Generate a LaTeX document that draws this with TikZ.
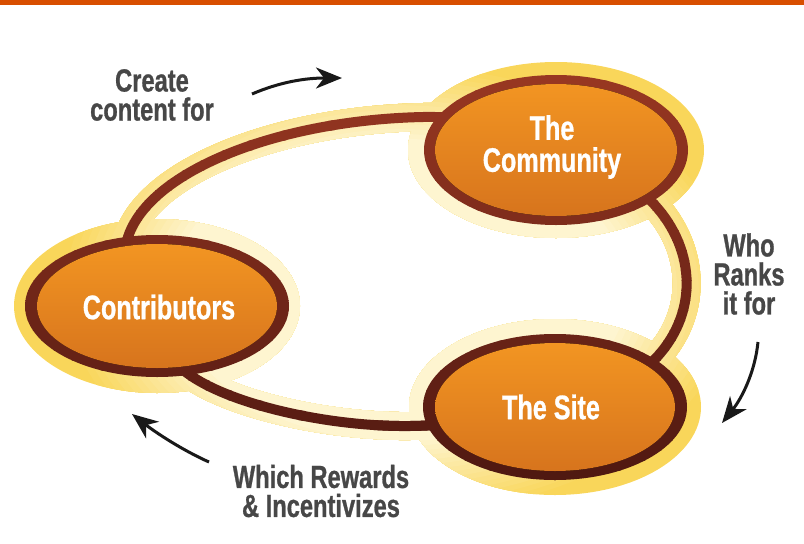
\documentclass[tikz,border=0pt]{standalone}
\usepackage{fontspec}
\newfontfamily\condsans{Liberation Sans}[FakeStretch=0.74, FakeBold=0.8]
\usetikzlibrary{arrows.meta}

\definecolor{barorange}{HTML}{D84E00}
\definecolor{halodeep}{HTML}{F9D65A}
\definecolor{halopale}{HTML}{FEF5D0}
\definecolor{browntop}{HTML}{9A3822}
\definecolor{brownbot}{HTML}{4C1710}
\definecolor{orangetop}{HTML}{F29522}
\definecolor{orangebot}{HTML}{D7741D}
\definecolor{labelgray}{HTML}{474747}

% the closed loop that links the three ovals
\def\looppath{(128,237)
  .. controls (150,170) and (280,120) .. (423,117)
  .. controls (520,115) and (610,160) .. (650,200)
  .. controls (695,245) and (700,310) .. (657,357)
  .. controls (620,397) and (500,425) .. (410,426)
  .. controls (330,427) and (230,405) .. (187,373)
  .. controls (150,345) and (117,270) .. (128,237) -- cycle}

% soft outer glow of the loop and of the ovals
\newcommand\halolayer[1]{%
  \draw[line width=28pt, #1] \looppath;
  \fill[#1] (556,150) ellipse [x radius=148, y radius=88];
  \fill[#1] (157,306) ellipse [x radius=143, y radius=87];
  \fill[#1] (555,407) ellipse [x radius=146, y radius=88];
}
% dark rim of the loop and of the ovals
\newcommand\rimlayer[1]{%
  \draw[line width=10pt, #1] \looppath;
  \fill[#1] (556,150) ellipse [x radius=132, y radius=75];
  \fill[#1] (157,306) ellipse [x radius=132, y radius=71];
  \fill[#1] (555,407) ellipse [x radius=132, y radius=73];
}

\tikzset{
  ovalfill/.style={top color=orangetop, bottom color=orangebot},
  ovaltext/.style={text=white, align=center,
    font=\condsans\bfseries\fontsize{34}{32}\selectfont},
  steplabel/.style={text=labelgray, align=center,
    font=\condsans\bfseries\fontsize{32}{29}\selectfont},
  flowarrow/.style={line width=3pt, black!90,
    -{Stealth[length=26pt, width=21pt, inset=8pt]}},
}

\begin{document}
\begin{tikzpicture}[x=1pt, y=-1pt]
\useasboundingbox (0,0) rectangle (804,544);

% header bar
\fill[barorange] (0,0) rectangle (804,5);

% glow: deep yellow outside, fading to pale towards the middle
\halolayer{halodeep}
\foreach \k in {1,...,16}{
  \pgfmathsetmacro\rx{300*(1.14-0.024*\k)}
  \pgfmathsetmacro\ry{200*(1.14-0.024*\k)}
  \pgfmathtruncatemacro\p{100*\k/16}
  \begin{scope}
    \clip (400,290) ellipse [x radius=\rx, y radius=\ry];
    \halolayer{halopale!\p!halodeep}
  \end{scope}
}

% rims: reddish brown at the top, darker towards the bottom
\foreach \yy in {60,70,...,490}{
  \pgfmathtruncatemacro\p{(\yy-60)/4.3}
  \begin{scope}
    \clip (0,\yy) rectangle (804,\yy+10.5);
    \rimlayer{brownbot!\p!browntop}
  \end{scope}
}

% orange faces of the ovals
\fill[ovalfill] (556,150) ellipse [x radius=121, y radius=66];
\fill[ovalfill] (157,306) ellipse [x radius=120, y radius=62];
\fill[ovalfill] (555,407) ellipse [x radius=120, y radius=64];

\node[ovaltext] (community) at (552,147) {The\\Community};
\node[ovaltext] (contributors) at (159,307) {Contributors};
\node[ovaltext] (site) at (551,407) {The Site};

% step labels
\node[steplabel] (create) at (152,95) {Create\\content for};
\node[steplabel] (ranks) at (749,274) {Who\\Ranks\\it for};
\node[steplabel] (rewards) at (321,491) {Which Rewards\\\& Incentivizes};

% direction arrows
\coordinate (a1s) at (252,94);
\coordinate (a1e) at (342,78);
\coordinate (a2s) at (758,342);
\coordinate (a2e) at (722,423);
\coordinate (a3s) at (209,462);
\coordinate (a3e) at (132,414);
\draw[flowarrow] (a1s) .. controls (280,82) and (305,78) .. (a1e);
\draw[flowarrow] (a2s) .. controls (755,372) and (742,398) .. (a2e);
\draw[flowarrow] (a3s) .. controls (182,450) and (155,432) .. (a3e);
\end{tikzpicture}
\end{document}
